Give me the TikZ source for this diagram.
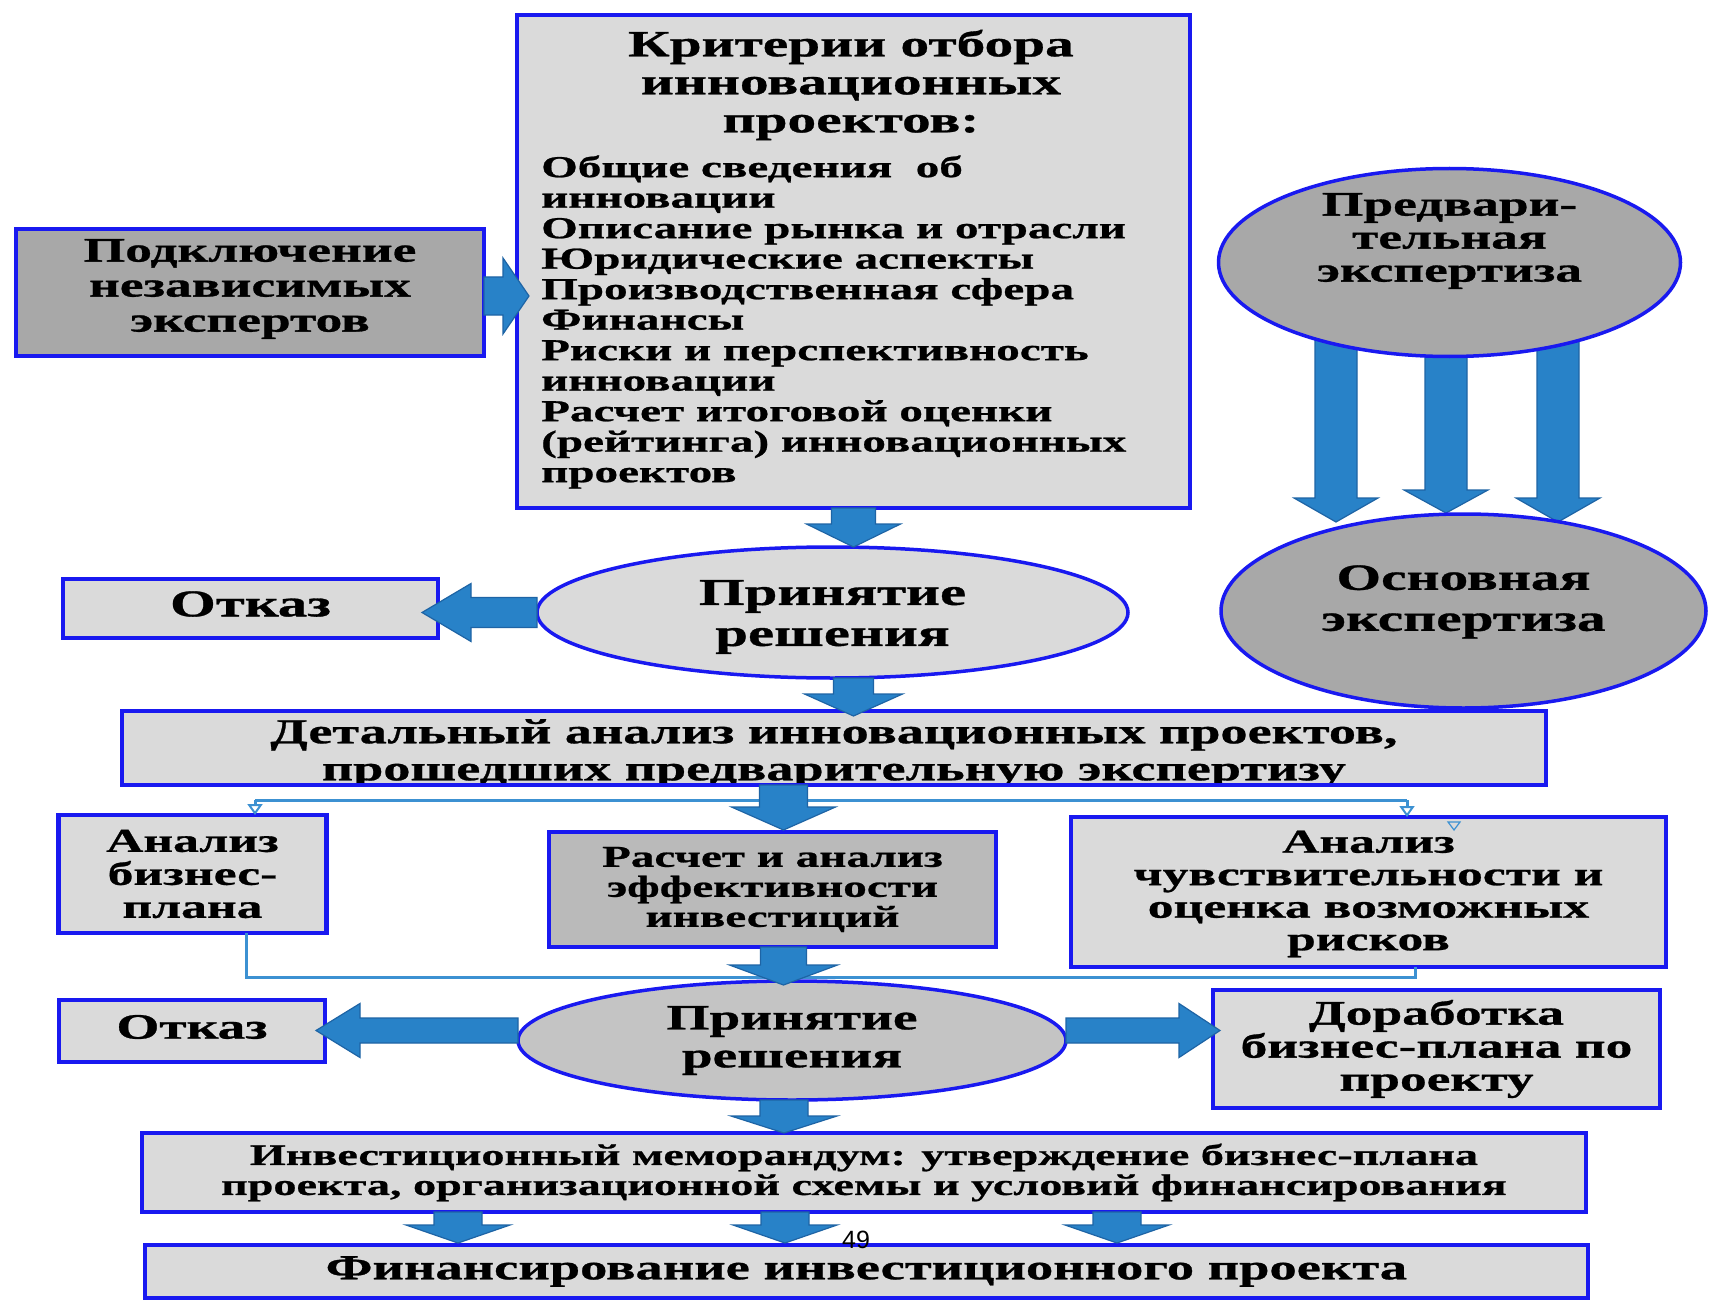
\documentclass[tikz,border=0pt]{standalone}
\usepackage{fontspec}
\setmainfont{Liberation Serif}[FakeStretch=1.55,FakeBold=0.8]
\newfontfamily\numfont{Liberation Sans}
\usetikzlibrary{shapes.geometric,arrows.meta,calc,backgrounds}

\definecolor{bord}{RGB}{25,25,240}
\definecolor{lgrey}{RGB}{218,218,218}
\definecolor{dgrey}{RGB}{168,168,168}
\definecolor{mgrey}{RGB}{196,196,196}
\definecolor{rgrey}{RGB}{186,186,186}
\definecolor{arrf}{RGB}{40,130,200}
\definecolor{arrl}{RGB}{30,100,165}
\definecolor{connc}{RGB}{60,145,210}

\newcommand\fs[2]{\fontsize{#1}{#2}\selectfont\bfseries}

\tikzset{
 boxn/.style={draw=bord, line width=4.5pt, fill=lgrey, rectangle, outer sep=0pt, inner sep=0pt, align=center, text=black},
 ellp/.style={draw=bord, line width=3.5pt, fill=lgrey, ellipse, outer sep=0pt, inner sep=0pt, align=center, text=black},
 txt/.style={inner sep=0pt, align=center, text=black},
 blk/.style={draw=arrl, fill=arrf, line width=1.2pt, line join=miter},
 conn/.style={draw=connc, line width=3pt},
 opentip/.style={-{Triangle[open,length=11pt,width=15pt,line width=2pt]}},
}

% down-pointing block arrow: start, tip, shaft half width, head half width, head length
\newcommand\darrow[5]{%
  \path[blk] let \p1=(#1), \p2=(#2) in
  (\x1-#3pt,\y1) -- (\x1+#3pt,\y1) -- (\x1+#3pt,\y2+#5pt) -- (\x1+#4pt,\y2+#5pt)
  -- (\x1,\y2) -- (\x1-#4pt,\y2+#5pt) -- (\x1-#3pt,\y2+#5pt) -- cycle;}
% left-pointing
\newcommand\larrow[5]{%
  \path[blk] let \p1=(#1), \p2=(#2) in
  (\x1,\y1+#3pt) -- (\x2+#5pt,\y1+#3pt) -- (\x2+#5pt,\y1+#4pt) -- (\x2,\y1)
  -- (\x2+#5pt,\y1-#4pt) -- (\x2+#5pt,\y1-#3pt) -- (\x1,\y1-#3pt) -- cycle;}
% right-pointing
\newcommand\rarrow[5]{%
  \path[blk] let \p1=(#1), \p2=(#2) in
  (\x1,\y1+#3pt) -- (\x2-#5pt,\y1+#3pt) -- (\x2-#5pt,\y1+#4pt) -- (\x2,\y1)
  -- (\x2-#5pt,\y1-#4pt) -- (\x2-#5pt,\y1-#3pt) -- (\x1,\y1-#3pt) -- cycle;}

\begin{document}
\begin{tikzpicture}[x=1pt,y=-1pt]
\useasboundingbox (0,0) rectangle (1709,1300);

% ---------- nodes ----------
\node[boxn, fill=dgrey, minimum width=468pt, minimum height=127pt] (expert) at (250,292.5) {};
\node[txt, font=\fs{34.5}{35}] (expertt) at (250,289) {Подключение\\независимых\\экспертов};

\node[boxn, minimum width=673pt, minimum height=493pt] (crit) at (853.5,261.5) {};
\node[txt, font=\fs{37}{38}] (crittitle) at (851,85) {Критерии отбора\\инновационных\\проектов:};
\node[txt, align=left, anchor=west, font=\fs{30.4}{30.5}] (critlist) at (541,322) {Общие сведения~~об\\
инновации\\
Описание рынка и отрасли\\
Юридические аспекты\\
Производственная сфера\\
Финансы\\
Риски и перспективность\\
инновации\\
Расчет итоговой оценки\\
(рейтинга) инновационных\\
проектов};

\node[ellp, fill=dgrey, minimum width=462pt, minimum height=188pt] (pred) at (1449.5,262.5) {};
\node[txt, font=\fs{34.5}{33}] (predt) at (1449.5,241) {Предвари-\\тельная\\экспертиза};
\node[ellp, fill=dgrey, minimum width=485pt, minimum height=194pt] (osn) at (1463.5,611) {};
\node[txt, font=\fs{37}{41}] (osnt) at (1463.5,602) {Основная\\экспертиза};

\node[ellp, minimum width=591pt, minimum height=131pt] (dec1) at (832.5,612.5) {};
\node[txt, font=\fs{38}{41}] (dec1t) at (832.5,617) {Принятие\\решения};
\node[boxn, minimum width=375pt, minimum height=59pt] (otkaz1) at (250.5,608.5) {};
\node[txt, font=\fs{38}{38}] (otkaz1t) at (250.5,604) {Отказ};

\node[boxn, minimum width=1424pt, minimum height=74pt] (det) at (834,748) {};
\begin{scope}
\clip ([shift={(2.25,2.25)}]det.north west) rectangle ([shift={(-2.25,-2.25)}]det.south east);
\node[txt, font=\fs{35}{37}] (dett) at (834,753.5) {Детальный анализ инновационных проектов,\\прошедших предварительную экспертизу};
\end{scope}

\node[boxn, minimum width=268pt, minimum height=118pt, font=\fs{33.3}{33}] (ab) at (192.5,874) {Анализ\\бизнес-\\плана};
\node[boxn, fill=rgrey, minimum width=447pt, minimum height=115pt, font=\fs{30.4}{30}] (ras) at (772.5,889.5) {Расчет и анализ\\эффективности\\инвестиций};
\node[boxn, minimum width=595pt, minimum height=150pt] (ach) at (1368.5,892) {};
\node[txt, font=\fs{33.3}{32.5}] (acht) at (1368.5,894) {Анализ\\чувствительности и\\оценка возможных\\рисков};

\node[ellp, fill=mgrey, minimum width=548pt, minimum height=119pt, font=\fs{35.7}{38}] (dec2) at (792,1040.5) {Принятие\\решения};
\node[boxn, minimum width=266pt, minimum height=62pt] (otkaz2) at (192,1031) {};
\node[txt, font=\fs{35.7}{36}] (otkaz2t) at (192,1027) {Отказ};
\node[boxn, minimum width=447pt, minimum height=118pt, font=\fs{34.5}{33}] (dor) at (1436.5,1049) {Доработка\\бизнес-плана по\\проекту};

\node[boxn, minimum width=1444pt, minimum height=79pt, font=\fs{29.8}{30}] (inv) at (864,1172.5) {Инвестиционный меморандум: утверждение бизнес-плана\\проекта, организационной схемы и условий финансирования};
\node[boxn, minimum width=1443pt, minimum height=53pt, font=\fs{35.2}{36}] (fin) at (866.5,1271.5) {Финансирование инвестиционного проекта};

% ---------- background: white page and arrows behind the expertise ellipses ----------
\begin{pgfonlayer}{background}
\fill[white] (0,0) rectangle (1709,1300);
\darrow{$(pred.center)+(-113.5,60)$}{$(osn.center)+(0,-89)$}{21}{42}{24}
\darrow{$(pred.center)+(-3.5,60)$}{$(osn.center)+(0,-98)$}{21}{42}{23}
\darrow{$(pred.center)+(108.5,60)$}{$(osn.center)+(0,-89)$}{21}{42}{24}
\end{pgfonlayer}

% ---------- thin connectors ----------
\coordinate (tl) at (255,800);
\coordinate (tr) at (1407,800);
\draw[conn] (tl) -- (tr);
\draw[conn, opentip] (tl) -- (tl |- ab.north);
\draw[conn, opentip] (tr) -- (tr |- ach.north);
\draw[conn] ($(ab.south)+(53.5,0)$) |- ($(ach.south)+(46.5,10)$) -- ($(ach.south)+(46.5,0)$);
\draw[connc, line width=1.2pt] (1448,822) -- (1460,822) -- (1454,830) -- cycle;

% ---------- block arrows ----------
\rarrow{$(expert.east)+(0,3.5)$}{$(crit.west)+(12,0)$}{19}{38}{26}
\darrow{crit.south}{crit.south |- dec1.north}{22}{47}{23}
\larrow{dec1.west}{$(otkaz1.east)+(-16,0)$}{15}{29}{49}
\darrow{crit.south |- dec1.south}{$(crit.south |- det.north)+(0,5)$}{20}{49}{22}
\darrow{$(ras.north |- det.south)+(11,0)$}{$(ras.north)+(0,-2)$}{24}{52}{23}
\darrow{$(ras.south)+(11,0)$}{$(ras.south |- dec2.north)+(0,4)$}{23}{54}{20}
\larrow{$(dec2.west)+(0,-10)$}{$(otkaz2.east)+(-9,0)$}{12.5}{27}{44}
\rarrow{$(dec2.east)+(0,-10)$}{$(dor.west)+(7,0)$}{12.5}{27}{41}
\darrow{$(dec2.south)+(-8,0)$}{dec2.south |- inv.north}{24}{53}{17}
\darrow{$(inv.south)+(-406,0)$}{$(fin.north)+(0,-2)$}{24}{52}{18}
\darrow{$(inv.south)+(-79,0)$}{$(fin.north)+(0,-2)$}{24}{52}{18}
\darrow{$(inv.south)+(253,0)$}{$(fin.north)+(0,-2)$}{24}{52}{18}

\node[txt, font=\numfont\fontsize{25}{30}\selectfont] (pg) at (856,1240) {49};
\end{tikzpicture}
\end{document}
